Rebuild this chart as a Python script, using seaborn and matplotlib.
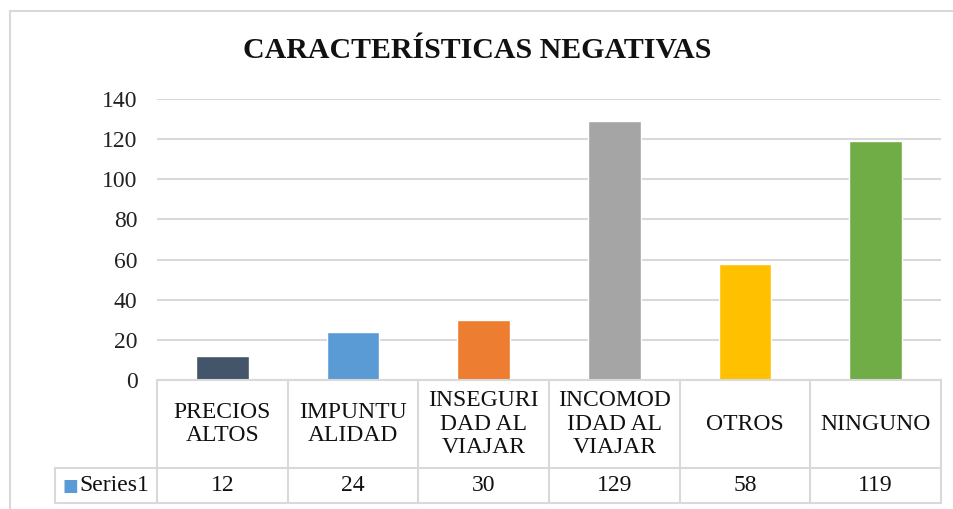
import matplotlib
matplotlib.use("Agg")
import matplotlib.pyplot as plt
import matplotlib.transforms as mtransforms
import seaborn as sns
import pandas as pd

# data
categories = ["PRECIOS\nALTOS", "IMPUNTU\nALIDAD", "INSEGURI\nDAD AL\nVIAJAR",
              "INCOMOD\nIDAD AL\nVIAJAR", "OTROS", "NINGUNO"]
values = [12, 24, 30, 129, 58, 119]
bar_colors = ["#44546A", "#5B9BD5", "#ED7D31", "#A5A5A5", "#FFC000", "#70AD47"]
series_name = "Series1"
y_ticks = [0, 20, 40, 60, 80, 100, 120, 140]

sns.set_theme(style="white")
plt.rcParams["font.family"] = ["Liberation Serif", "DejaVu Serif"]

W, H = 954, 509
fig = plt.figure(figsize=(W / 100, H / 100), dpi=100)

# plot area in pixels: left 157, right 941, top 99, bottom 380
left, right, top, bottom = 157, 941, 99, 380
ax = fig.add_axes([left / W, 1 - bottom / H, (right - left) / W, (bottom - top) / H])

df = pd.DataFrame({"cat": range(len(categories)), "val": values})
sns.barplot(data=df, x="cat", y="val", hue="cat", palette=bar_colors,
            legend=False, width=0.405, saturation=1, ax=ax)

ax.set_xlim(-0.5, len(categories) - 0.5)
ax.set_ylim(0, 140)
ax.set_yticks(y_ticks)
ax.set_yticklabels([str(t) for t in y_ticks], fontsize=17, color="#222222")
ax.tick_params(axis="y", length=0, pad=14)
ax.set_xticks([])
ax.set_xlabel("")
ax.set_ylabel("")
for s in ax.spines.values():
    s.set_visible(False)
ax.grid(axis="y", color="#D9D9D9", linewidth=1.5)
ax.set_axisbelow(True)

# data table below the plot
grid_c = "#D9D9D9"
lw = 1.5
trans = mtransforms.blended_transform_factory(ax.transData, ax.transAxes)
ph = bottom - top
y_hdr = (bottom - 468) / ph
y_row = (bottom - 503) / ph
n = len(categories)
unit_px = (right - left) / n
legend_left = -0.5 - (left - 55) / unit_px

def hline(x0, x1, y):
    ax.plot([x0, x1], [y, y], transform=trans, color=grid_c, lw=lw, clip_on=False)

def vline(x, y0, y1):
    ax.plot([x, x], [y0, y1], transform=trans, color=grid_c, lw=lw, clip_on=False)

hline(-0.5, n - 0.5, 0)
hline(legend_left, n - 0.5, y_hdr)
hline(legend_left, n - 0.5, y_row)
for i in range(n + 1):
    vline(i - 0.5, 0, y_row)
vline(legend_left, y_hdr, y_row)

for i, (c, v) in enumerate(zip(categories, values)):
    ax.text(i, (0 + y_hdr) / 2, c, transform=trans, ha="center", va="center",
            fontsize=17, color="#111111", linespacing=1.17)
    ax.text(i, (y_hdr + y_row) / 2, str(v), transform=trans, ha="center",
            va="center", fontsize=17, color="#111111")

# legend key in the table
ax.text(legend_left + 7 / unit_px, (y_hdr + y_row) / 2, "\u25A0", transform=trans,
        ha="left", va="center", fontsize=12, color="#5B9BD5",
        family=["DejaVu Sans"])
ax.text(legend_left + 24 / unit_px, (y_hdr + y_row) / 2, series_name, transform=trans,
        ha="left", va="center", fontsize=17, color="#111111")

fig.text(0.5, 1 - 51 / H, "CARACTERÍSTICAS NEGATIVAS", ha="center", va="center",
         fontsize=21.5, fontweight="bold", color="#111111")

# outer chart border (open at right and bottom as in the crop)
fig.add_artist(plt.Line2D([10 / W, 10 / W], [0, 1 - 11 / H], color=grid_c, lw=1.5,
                          transform=fig.transFigure))
fig.add_artist(plt.Line2D([10 / W, 1], [1 - 11 / H, 1 - 11 / H], color=grid_c, lw=1.5,
                          transform=fig.transFigure))

fig.savefig("out.png", dpi=100)
